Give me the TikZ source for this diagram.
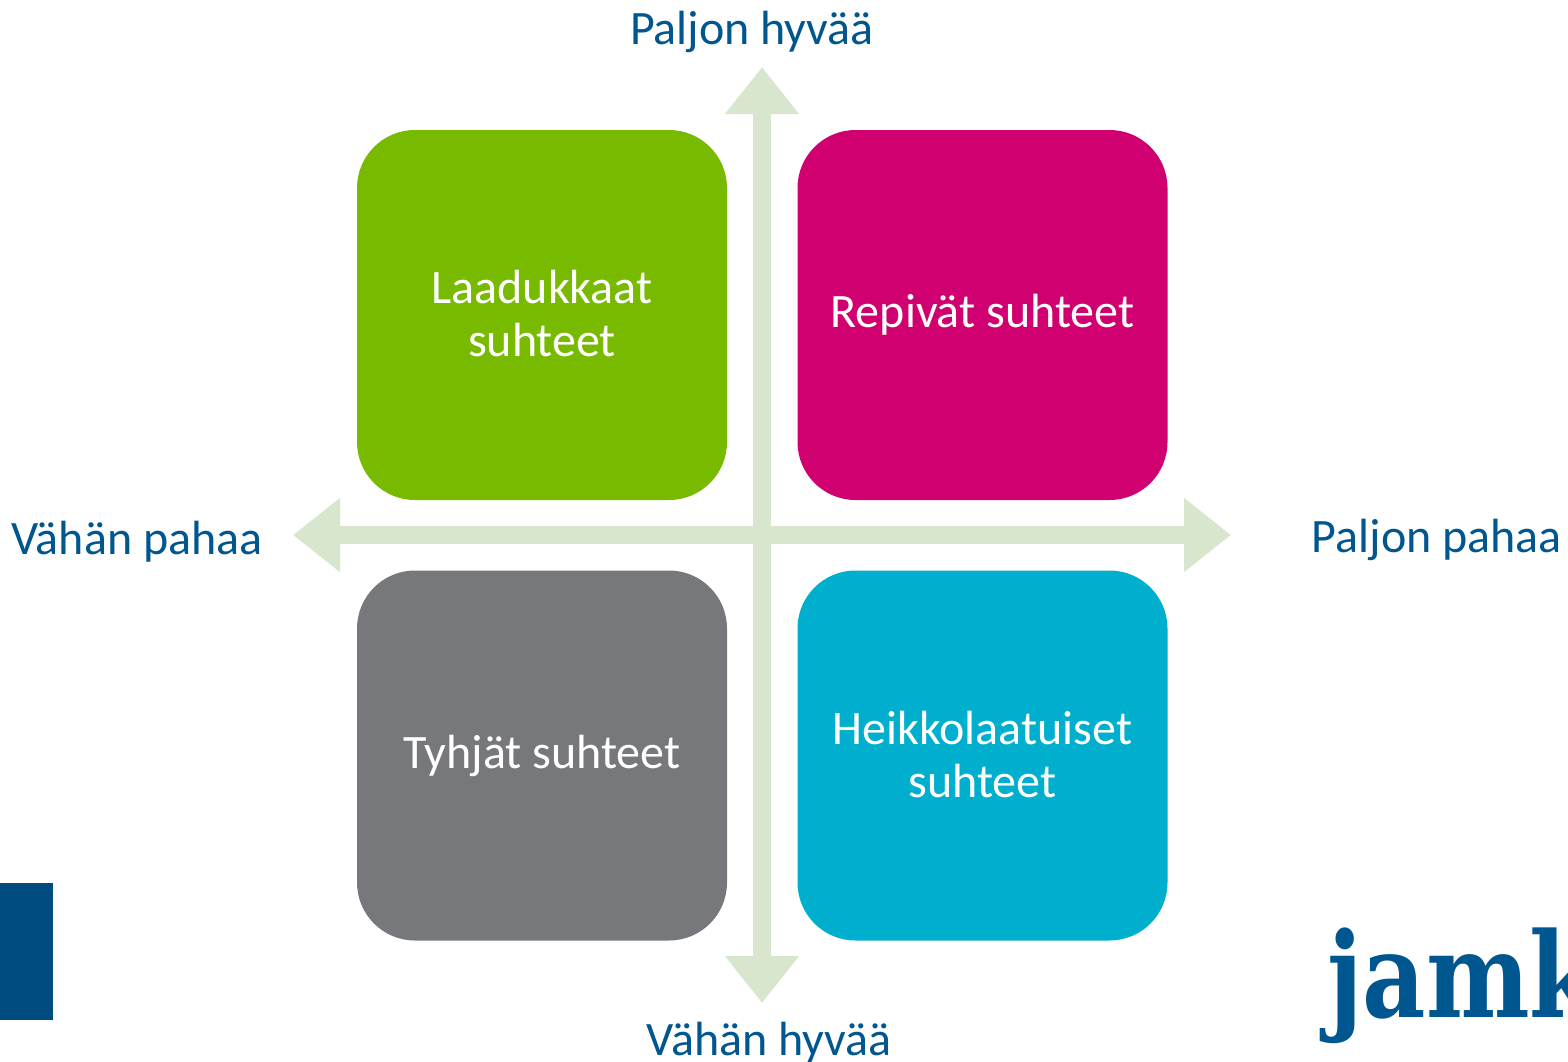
\documentclass[tikz,border=0pt]{standalone}
\usepackage{fontspec}
\setmainfont{Carlito}
\newfontfamily\logofont{DejaVu Serif}[FakeStretch=0.83]
\usetikzlibrary{arrows.meta}
\definecolor{axisgreen}{HTML}{D8E6CD}
\definecolor{labelblue}{HTML}{00578F}
\definecolor{cgreen}{HTML}{78BA00}
\definecolor{cpink}{HTML}{D00070}
\definecolor{cgrey}{HTML}{77787B}
\definecolor{ccyan}{HTML}{00AFCE}
\definecolor{barblue}{HTML}{004B80}
\tikzset{
  quad/.style={rounded corners=58pt,minimum width=370pt,minimum height=370pt,inner sep=0pt,align=center,text=white,font=\fontsize{48}{52.5}\selectfont,anchor=center},
  axislabel/.style={text=labelblue,font=\fontsize{48}{52}\selectfont,inner sep=0pt,anchor=center},
  axisarrow/.style={draw=axisgreen,line width=18pt,{Triangle[length=47pt,width=71pt,fill=axisgreen]}-{Triangle[length=47pt,width=71pt,fill=axisgreen]}}
}
\begin{document}
\begin{tikzpicture}[x=1pt,y=-1pt]
\useasboundingbox (0,0) rectangle (1568,1061);
\clip (0,0) rectangle (1568,1061);
\fill[white] (0,0) rectangle (1568,1061);
\coordinate (top) at (762,67);
\coordinate (bottom) at (762,1003);
\coordinate (left) at (293,535);
\coordinate (right) at (1231,535);
\draw[axisarrow] (top) -- (bottom);
\draw[axisarrow] (left) -- (right);
\node[quad,fill=cgreen] (q1) at (542,315) {\raisebox{3pt}{Laadukkaat}\\\raisebox{3pt}{suhteet}};
\node[quad,fill=cpink] (q2) at (982.5,315) {\raisebox{-5pt}{Repivät suhteet}};
\node[quad,fill=cgrey] (q3) at (542,755.5) {\raisebox{-3pt}{Tyhjät suhteet}};
\node[quad,fill=ccyan] (q4) at (982.5,755.5) {\raisebox{2.5pt}{Heikkolaatuiset}\\\raisebox{2.5pt}{suhteet}};
\node[axislabel] (l1) at (752,32) {Paljon hyvää};
\node[axislabel] (l2) at (769,1043) {Vähän hyvää};
\node[axislabel] (l3) at (137,542) {Vähän pahaa};
\node[axislabel] (l4) at (1437,540) {Paljon pahaa};
\fill[barblue] (0,883) rectangle (53,1020);
\node[inner sep=0pt,anchor=base west,text=labelblue,font=\logofont\bfseries\fontsize{118}{118}\selectfont] (logo) at (1327,1017) {jamk};
\end{tikzpicture}
\end{document}
